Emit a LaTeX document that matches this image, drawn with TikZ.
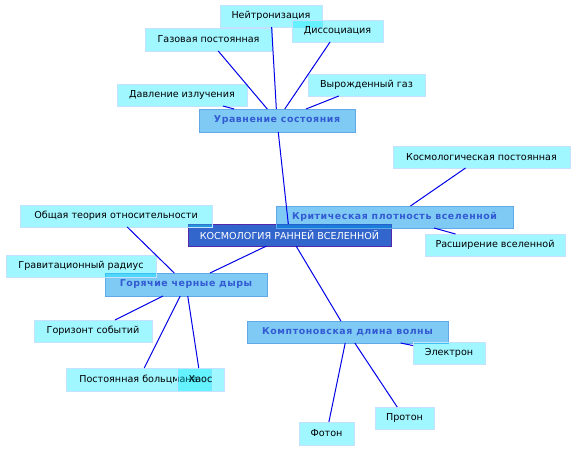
\documentclass[tikz,border=0pt]{standalone}
\usepackage{fontspec}
\setmainfont{DejaVu Sans}
\newfontfamily\catfont[LetterSpace=6]{DejaVu Sans}
\definecolor{leaffill}{RGB}{0,236,255}
\definecolor{leafline}{RGB}{196,226,255}
\definecolor{catfill}{RGB}{0,150,235}
\definecolor{catline}{RGB}{96,168,232}
\definecolor{cattext}{RGB}{50,90,210}
\definecolor{rootfill}{RGB}{51,102,204}
\definecolor{rootline}{RGB}{85,40,170}
\definecolor{edgeblue}{RGB}{0,0,232}
\tikzset{
  box/.style={rectangle, inner sep=0pt, outer sep=0pt, line width=0.9pt, anchor=center},
  leaf/.style={box, fill=leaffill, fill opacity=0.37, text opacity=1, draw=leafline, draw opacity=1,
    font=\fontsize{9.6}{11}\selectfont, text=black},
  cat/.style={box, fill=catfill, fill opacity=0.5, text opacity=1, draw=catline, draw opacity=1,
    font=\catfont\bfseries\fontsize{9.4}{11}\selectfont, text=cattext},
  root/.style={box, fill=rootfill, draw=rootline, font=\fontsize{9.6}{11}\selectfont, text=white},
  link/.style={draw=edgeblue, line width=1pt}
}
\begin{document}
\begin{tikzpicture}[x=1pt,y=-1pt]
\fill[white] (0,0) rectangle (576,451);
\useasboundingbox (0,0) rectangle (576,451);
% root
\node[root, minimum width=203pt, minimum height=22pt] (root) at (289.5,235) {КОСМОЛОГИЯ РАННЕЙ ВСЕЛЕННОЙ};
% categories
\node[cat, minimum width=156pt, minimum height=23pt] (eq) at (277,120.5) {Уравнение состояния};
\node[cat, minimum width=237pt, minimum height=22pt] (crit) at (394.5,217) {Критическая плотность вселенной};
\node[cat, minimum width=162pt, minimum height=23pt] (hot) at (186,284.5) {Горячие черные дыры};
\node[cat, minimum width=201pt, minimum height=22pt] (comp) at (347.5,332) {Комптоновская длина волны};
% leaves
\node[leaf, minimum width=102pt, minimum height=22pt] (neut) at (271,16) {Нейтронизация};
\node[leaf, minimum width=127pt, minimum height=23pt] (gas) at (208.5,39.5) {Газовая постоянная};
\node[leaf, minimum width=91pt, minimum height=22pt] (diss) at (337.5,31) {Диссоциация};
\node[leaf, minimum width=130pt, minimum height=22pt] (press) at (182,95) {Давление излучения};
\node[leaf, minimum width=117pt, minimum height=22pt] (degen) at (366.5,85) {Вырожденный газ};
\node[leaf, minimum width=177pt, minimum height=22pt] (cosm) at (481.5,157) {Космологическая постоянная};
\node[leaf, minimum width=140pt, minimum height=22pt] (expn) at (495,245) {Расширение вселенной};
\node[leaf, minimum width=192pt, minimum height=22pt] (gr) at (116,216) {Общая теория относительности};
\node[leaf, minimum width=150pt, minimum height=22pt] (grav) at (81,266) {Гравитационный радиус};
\node[leaf, minimum width=118pt, minimum height=22pt] (hor) at (93,331) {Горизонт событий};
\node[leaf, minimum width=145pt, minimum height=23pt] (boltz) at (138.5,379.5) {Постоянная больцмана};
\node[leaf, minimum width=47pt, minimum height=23pt] (chaos) at (200.5,379.5) {Хаос};
\node[leaf, minimum width=72pt, minimum height=22pt] (elec) at (449,353) {Электрон};
\node[leaf, minimum width=59pt, minimum height=22pt] (prot) at (404.5,418) {Протон};
\node[leaf, minimum width=55pt, minimum height=23pt] (phot) at (326.5,433.5) {Фотон};
% connectors
\draw[link] (eq) -- (neut);
\draw[link] (eq) -- (gas);
\draw[link] (eq) -- (diss);
\draw[link] (eq) -- (press);
\draw[link] (eq) -- (degen);
\draw[link] (eq) -- (root);
\draw[link] (crit) -- (cosm);
\draw[link] (crit) -- (expn);
\draw[link] (hot) -- (root);
\draw[link] (hot) -- (gr);
\draw[link] (hot) -- (hor);
\draw[link] (hot) -- (boltz);
\draw[link] (hot) -- (chaos);
\draw[link] (comp) -- (root);
\draw[link] (comp) -- (elec);
\draw[link] (comp) -- (prot);
\draw[link] (comp) -- (phot);
\end{tikzpicture}
\end{document}
